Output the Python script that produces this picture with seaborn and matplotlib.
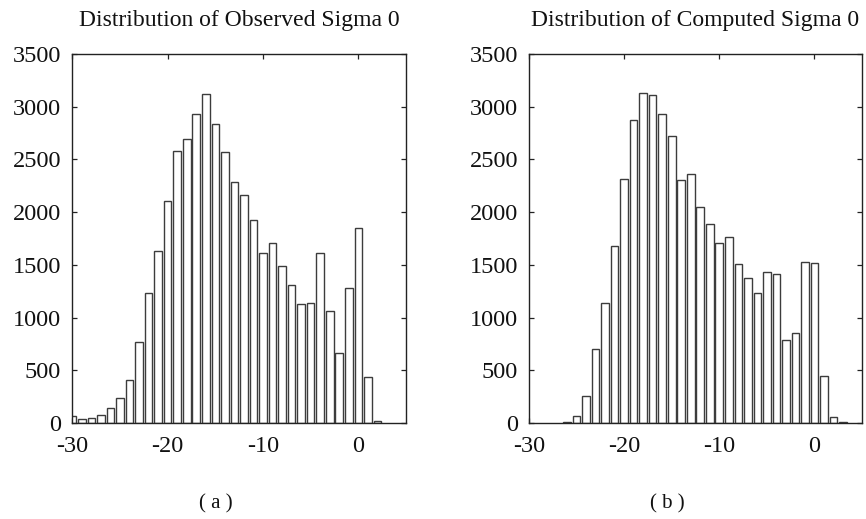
import numpy as np
import pandas as pd
import matplotlib
matplotlib.use("Agg")
import matplotlib.pyplot as plt
import seaborn as sns

# Histogram bin centres (dB, 1 dB bins) and counts for both panels
bins_observed = list(range(-30, 3))
counts_observed = [70, 40, 50, 79, 139, 237, 404, 771, 1229, 1627, 2107, 2584,
                   2698, 2932, 3118, 2837, 2575, 2290, 2164, 1924, 1611, 1712,
                   1485, 1305, 1128, 1134, 1608, 1058, 660, 1279, 1848, 436, 16]

bins_computed = list(range(-26, 4))
counts_computed = [6, 70, 259, 701, 1137, 1680, 2319, 2871, 3127, 3112, 2932,
                   2723, 2303, 2360, 2053, 1892, 1709, 1763, 1510, 1374, 1235,
                   1428, 1415, 787, 856, 1523, 1516, 442, 57, 6]

titles = ["Distribution of Observed Sigma 0", "Distribution of Computed Sigma 0"]
captions = ["( a )", "( b )"]
x_ticks = [-30, -20, -10, 0]
y_ticks = [0, 500, 1000, 1500, 2000, 2500, 3000, 3500]

sns.set_style("ticks")
plt.rcParams["font.family"] = ["Liberation Serif", "DejaVu Serif"]

fig = plt.figure(figsize=(8.66, 5.19), dpi=100)
W, H = 866, 519
rects = [(72.3, 54, 406, 423), (529, 54, 862, 423)]
caption_x = [216, 667]

panels = [(bins_observed, counts_observed), (bins_computed, counts_computed)]
for i, ((centres, counts), (x0, y0, x1, y1)) in enumerate(zip(panels, rects)):
    ax = fig.add_axes([x0 / W, 1 - y1 / H, (x1 - x0) / W, (y1 - y0) / H])
    df = pd.DataFrame({"sigma0": centres, "count": counts})
    sns.histplot(data=df, x="sigma0", weights="count", discrete=True,
                 shrink=0.8, color="white", edgecolor="#3c3c3c",
                 linewidth=1.0, alpha=1, ax=ax)
    ax.set_xlim(-30, 5)
    ax.set_ylim(0, 3500)
    ax.set_xticks(x_ticks)
    ax.set_xticklabels([str(t) for t in x_ticks])
    ax.set_yticks(y_ticks)
    ax.set_xlabel("")
    ax.set_ylabel("")
    for s in ax.spines.values():
        s.set_visible(True)
        s.set_color("#222222")
        s.set_linewidth(1.0)
    ax.tick_params(direction="in", top=True, right=True, length=3.5,
                   width=0.9, color="#222222", labelsize=17.5,
                   labelcolor="#111111")
    ax.tick_params(axis="x", pad=9)
    ax.tick_params(axis="y", pad=8)
    ax.set_title(titles[i], fontsize=17, pad=20, color="#111111")
    fig.text(caption_x[i] / W, 1 - 504 / H, captions[i], fontsize=15,
             ha="center", va="center", color="#111111")

fig.savefig("out.png", dpi=100)
